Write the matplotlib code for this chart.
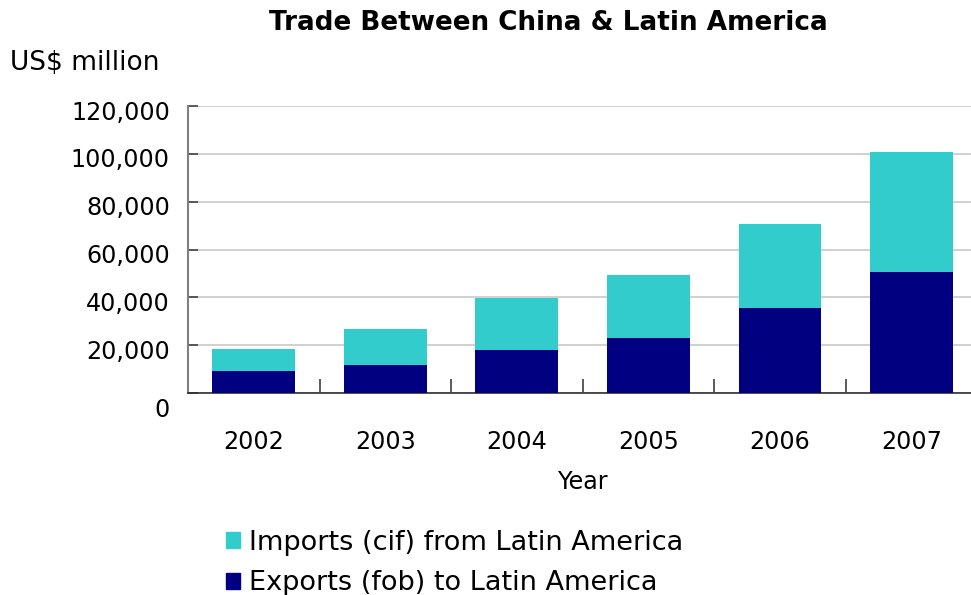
import matplotlib.pyplot as plt
import matplotlib.transforms as mtransforms
from matplotlib.patches import Patch
from matplotlib.ticker import FuncFormatter, FixedLocator

# Datos (US$ million)
years = ['2002', '2003', '2004', '2005', '2006', '2007']
exports_fob = [9200, 11700, 18000, 23100, 35700, 50600]
imports_cif = [9300, 15200, 21900, 26400, 34800, 50000]

navy = '#000080'
cyan = '#33CCCC'

fig = plt.figure(figsize=(9.71, 5.95), dpi=100)
ax = fig.add_axes([0.1936, 0.3395, 0.813, 0.4823])

x = list(range(len(years)))
ax.bar(x, exports_fob, width=0.63, color=navy, zorder=3)
ax.bar(x, imports_cif, width=0.63, bottom=exports_fob, color=cyan, zorder=3)

ax.set_xlim(-0.5, 5.5)
ax.set_ylim(0, 120000)

# eje y
ax.set_yticks(range(0, 120001, 20000))
ax.yaxis.set_major_formatter(FuncFormatter(lambda v, p: f'{int(v):,}'))
ax.yaxis.grid(True, color='#c8c8c8', linewidth=1.2, zorder=0)
ax.tick_params(axis='y', direction='in', length=7, width=1.2, color='#404040',
               labelsize=17.2, pad=13)
shift = mtransforms.ScaledTranslation(0, -4 / 100, fig.dpi_scale_trans)
for lbl in ax.get_yticklabels():
    lbl.set_transform(lbl.get_transform() + shift)
zero = ax.get_yticklabels()[0]
zero.set_transform(zero.get_transform() +
                   mtransforms.ScaledTranslation(0, -11 / 100, fig.dpi_scale_trans))

# eje x
ax.set_xticks(x)
ax.set_xticklabels(years)
ax.xaxis.set_minor_locator(FixedLocator([i + 0.5 for i in range(-1, 6)]))
ax.tick_params(axis='x', which='major', length=0, labelsize=17.2, pad=26.5)
ax.tick_params(axis='x', which='minor', direction='in', length=10, width=1.2,
               color='#404040')
ax.set_xlabel('Year', fontsize=17.2, labelpad=12)

for s in ['top', 'right']:
    ax.spines[s].set_visible(False)
ax.spines['left'].set_color('#808080')
ax.spines['left'].set_linewidth(1.5)
ax.spines['bottom'].set_color('#303030')
ax.spines['bottom'].set_linewidth(1.2)

fig.text(0.565, 0.962, 'Trade Between China & Latin America', ha='center',
         va='center', fontsize=18.9, fontweight='bold')
fig.text(0.01, 0.894, 'US$ million', ha='left', va='center', fontsize=19)

handles = [Patch(color=cyan), Patch(color=navy)]
fig.legend(handles, ['Imports (cif) from Latin America', 'Exports (fob) to Latin America'],
           loc='upper left', bbox_to_anchor=(0.233, 0.11), frameon=False,
           fontsize=19.5, handlelength=0.5, handleheight=0.5, handletextpad=0.33,
           labelspacing=0.55, borderaxespad=0, borderpad=0)

plt.savefig('out.png', dpi=100)
